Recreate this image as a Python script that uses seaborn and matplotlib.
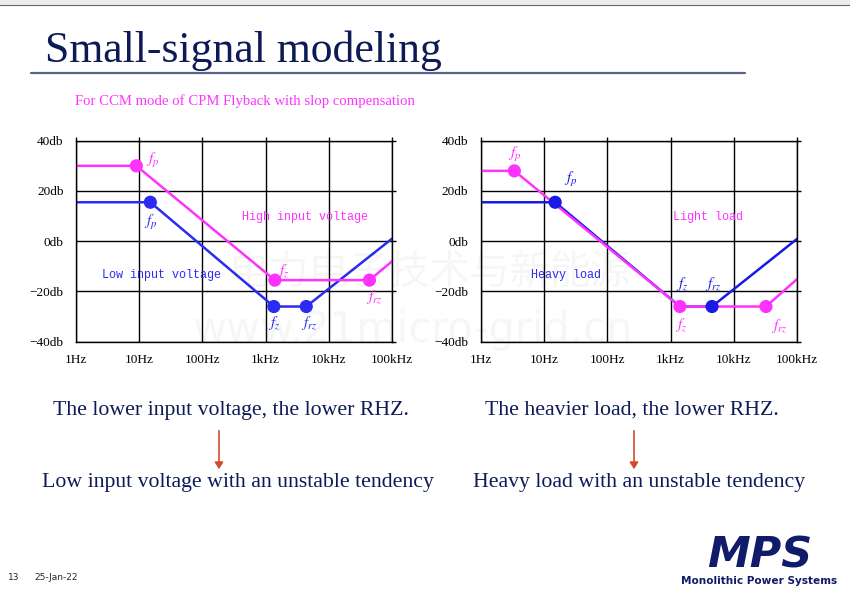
import numpy as np
import pandas as pd
import matplotlib
matplotlib.use("Agg")
import matplotlib.pyplot as plt
import seaborn as sns

# corner points of the asymptotic gain curves (Hz, dB)
hi_vin_f = [1, 9, 1400, 44000, 100000]
hi_vin_db = [30, 30, -15.5, -15.5, -8]
lo_vin_f = [1, 15, 1350, 4400, 100000]
lo_vin_db = [15.5, 15.5, -26, -26, 1]

light_f = [1, 3.4, 1400, 32000, 100000]
light_db = [28, 28, -26, -26, -15]
heavy_f = [1, 15, 1400, 4500, 100000]
heavy_db = [15.5, 15.5, -26, -26, 1]

x_ticks = [1, 10, 100, 1000, 10000, 100000]
x_labels = ["1Hz", "10Hz", "100Hz", "1kHz", "10kHz", "100kHz"]
y_ticks = [-40, -20, 0, 20, 40]
y_labels = ["\u221240db", "\u221220db", "0db", "20db", "40db"]

MAG = "#ff33ff"
BLUE = "#2b2bf2"
NAVY = "#0d1a55"

sns.set_style("white")
plt.rcParams["mathtext.fontset"] = "stix"
plt.rcParams["font.family"] = ["Liberation Serif", "DejaVu Serif"]

fig = plt.figure(figsize=(8.5, 5.92), dpi=100)


def curve(ax, f, db, color, marks, lw=1.8):
    d = pd.DataFrame({"f": f, "db": db})
    sns.lineplot(data=d, x="f", y="db", ax=ax, color=color, lw=lw, sort=False)
    sns.scatterplot(data=d.iloc[marks], x="f", y="db", ax=ax, color=color,
                    s=90, edgecolor="none", zorder=5)


def setup(ax):
    ax.set_xscale("log")
    ax.set_xlim(1, 100000)
    ax.set_ylim(-40, 40)
    ax.set_xticks(x_ticks)
    ax.set_xticklabels(x_labels)
    ax.set_yticks(y_ticks)
    ax.set_yticklabels(y_labels)
    ax.minorticks_off()
    ax.grid(True, color="black", lw=1.0)
    for s in ax.spines.values():
        s.set_color("black")
        s.set_linewidth(1.0)
    ax.tick_params(axis="both", direction="out", length=3, width=1.0,
                   labelsize=9.5, colors="black", top=True, right=True, pad=6)
    ax.set_xlabel("")
    ax.set_ylabel("")


def lab(ax, x, y, s, color, ha="left"):
    ax.text(x, y, s, color=color, fontsize=11, ha=ha, va="center")


# left plot: input voltage
ax1 = fig.add_axes([76 / 850, 1 - 341.7 / 592, 316 / 850, 201 / 592])
curve(ax1, lo_vin_f, lo_vin_db, BLUE, [1, 2, 3])
curve(ax1, hi_vin_f, hi_vin_db, MAG, [1, 2, 3])
setup(ax1)
lab(ax1, 13, 32, r"$f_p$", MAG)
lab(ax1, 15, 7.5, r"$f_p$", BLUE, "center")
lab(ax1, 1500, -12, r"$f_z$", MAG)
lab(ax1, 1350, -32.5, r"$f_z$", BLUE, "center")
lab(ax1, 5000, -32.5, r"$f_{rz}$", BLUE, "center")
lab(ax1, 52000, -22.5, r"$f_{rz}$", MAG, "center")
ax1.text(420, 9.5, "High input voltage", color=MAG, fontsize=8.5,
         family="Liberation Mono", va="center")
ax1.text(2.6, -13.5, "Low input voltage", color=BLUE, fontsize=8.5,
         family="Liberation Mono", va="center")

# right plot: load
ax2 = fig.add_axes([480.7 / 850, 1 - 341.7 / 592, 316.6 / 850, 201 / 592])
curve(ax2, heavy_f, heavy_db, "#1a1ae6", [1, 3])
curve(ax2, light_f, light_db, MAG, [1, 2, 3])
setup(ax2)
lab(ax2, 3.4, 34.5, r"$f_p$", MAG, "center")
lab(ax2, 26, 24.5, r"$f_p$", "#1a1ae6", "center")
lab(ax2, 1550, -17, r"$f_z$", "#1a1ae6", "center")
lab(ax2, 4700, -17, r"$f_{rz}$", "#1a1ae6", "center")
lab(ax2, 1450, -33.5, r"$f_z$", MAG, "center")
lab(ax2, 52000, -34, r"$f_{rz}$", MAG, "center")
ax2.text(1100, 9.5, "Light load", color=MAG, fontsize=8.5,
         family="Liberation Mono", va="center")
ax2.text(6.2, -13.5, "Heavy load", color=BLUE, fontsize=8.5,
         family="Liberation Mono", va="center")

# slide decoration
fig.patches.append(plt.Rectangle((0, 1 - 4 / 592), 1, 4 / 592, transform=fig.transFigure,
                                 color="#ececf0", zorder=0))
fig.add_artist(plt.Line2D([0, 1], [1 - 4.5 / 592] * 2, color="#666666", lw=0.8))
fig.text(45 / 850, 1 - 62 / 592, "Small-signal modeling", color=NAVY, fontsize=31.5,
         va="baseline")
fig.add_artist(plt.Line2D([31 / 850, 745 / 850], [1 - 73 / 592] * 2, color="#5a6688", lw=1.6))
fig.text(75 / 850, 1 - 105 / 592, "For CCM mode of CPM Flyback with slop compensation",
         color=MAG, fontsize=10.6, va="baseline")

fig.text(231 / 850, 1 - 410 / 592, "The lower input voltage, the lower RHZ.", color=NAVY,
         fontsize=15.7, ha="center", va="center")
fig.text(238 / 850, 1 - 483 / 592, "Low input voltage with an unstable tendency", color=NAVY,
         fontsize=15.7, ha="center", va="center")
fig.text(632 / 850, 1 - 410 / 592, "The heavier load, the lower RHZ.", color=NAVY,
         fontsize=15.7, ha="center", va="center")
fig.text(639 / 850, 1 - 483 / 592, "Heavy load with an unstable tendency", color=NAVY,
         fontsize=15.7, ha="center", va="center")
for xa in [219, 634]:
    fig.add_artist(matplotlib.patches.FancyArrowPatch(
        (xa / 850, 1 - 428 / 592), (xa / 850, 1 - 472 / 592), transform=fig.transFigure,
        arrowstyle="-|>,head_length=4,head_width=2.5", color="#d24a2a", lw=1.2))

# watermark
fig.text(430 / 850, 1 - 272 / 592, "电力电子技术与新能源", color="#000000", alpha=0.035,
         fontsize=29, family=["Noto Sans CJK SC", "DejaVu Sans"], ha="center", va="center")
fig.text(412 / 850, 1 - 330 / 592, "www.21micro-grid.cn", color="#000000", alpha=0.035,
         fontsize=30, family="DejaVu Sans", ha="center", va="center")

# footer
fig.text(8 / 850, 1 - 578 / 592, "13", fontsize=6.5, family="DejaVu Sans", va="center")
fig.text(34 / 850, 1 - 578 / 592, "25-Jan-22", fontsize=6.5, family="DejaVu Sans", va="center")
fig.text(760 / 850, 1 - 556 / 592, "MPS", color="#101c6a", fontsize=31, fontweight="heavy",
         style="italic", family="DejaVu Sans", ha="center", va="center")
fig.text(759 / 850, 1 - 581 / 592, "Monolithic Power Systems", color="#101c6a", fontsize=7.6,
         fontweight="bold", family="DejaVu Sans", ha="center", va="center")

fig.savefig("out.png", dpi=100)
